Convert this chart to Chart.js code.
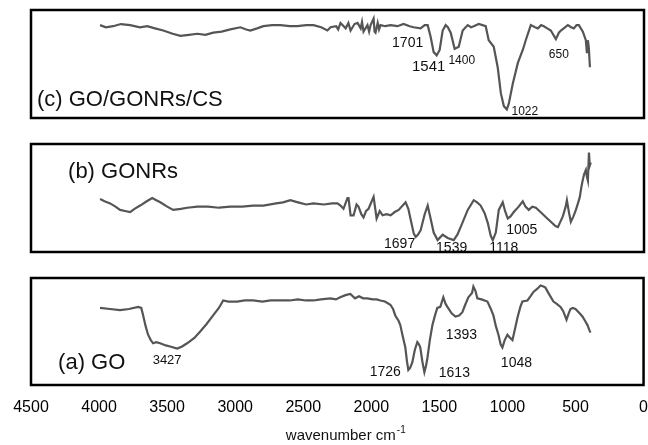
<!DOCTYPE html>
<html>
<head>
<meta charset="utf-8">
<script src="https://cdn.jsdelivr.net/npm/chart.js@4.4.1/dist/chart.umd.min.js"></script>
<style>
  body { margin: 0; background: #fff; }
  #wrap { position: relative; width: 648px; height: 445px; }
  #wrap canvas { position: absolute; left: 0; top: 0; }
</style>
</head>
<body>
<div id="wrap">
  <canvas id="panelC" width="648" height="445"></canvas>
  <canvas id="panelB" width="648" height="445"></canvas>
  <canvas id="panelA" width="648" height="445"></canvas>
</div>
<script>
// x axis tick labels (wavenumber, cm-1)
const xTicks = [4500, 4000, 3500, 3000, 2500, 2000, 1500, 1000, 500, 0];

// (c) GO/GONRs/CS
const waveC = [3993, 3950, 3897, 3840, 3772, 3700, 3647, 3590, 3529, 3460, 3404, 3340, 3279, 3220, 3162, 3100,
  3037, 2963, 2920, 2890, 2840, 2794, 2730, 2669, 2600, 2544, 2480, 2426, 2370, 2324, 2301, 2260, 2245, 2228, 2190,
  2170, 2154, 2125, 2103, 2080, 2070, 2059, 2030, 2018, 2007, 1985, 1978, 1971, 1955, 1945, 1934, 1900, 1860, 1810,
  1765, 1720, 1691, 1640, 1610, 1588, 1566, 1544, 1522, 1500, 1478, 1456, 1440, 1419, 1390, 1360, 1331, 1294,
  1270, 1250, 1213, 1162, 1140, 1103, 1074, 1051, 1029, 1007, 993, 963, 926, 890, 868, 831, 800, 779, 755, 735,
  710, 684, 647, 625, 610, 580, 559, 535, 515, 495, 478, 449, 427, 419, 412, 405, 397];
const transC = [86, 84, 85, 87, 86, 84, 85, 83, 81, 78, 76, 77, 78, 77, 79, 80,
  82, 84, 82, 81, 83, 85, 86, 86, 85, 85, 86, 86, 84, 81, 84, 85, 82, 88, 83,
  88, 81, 87, 88, 83, 89, 80, 86, 80, 86, 92, 80, 79, 88, 82, 86, 85, 86, 85,
  87, 85, 84, 83, 86, 86, 75, 61, 58, 63, 81, 86, 84, 79, 64, 66, 81, 86,
  84, 85, 87, 85, 72, 66, 47, 23, 11, 8, 13, 32, 51, 63, 72, 86, 84, 83, 86, 85,
  83, 81, 73, 79, 81, 84, 86, 84, 83, 86, 86, 80, 72, 60, 72, 65, 47];

// (b) GONRs
const waveB = [3993, 3960, 3919, 3880, 3846, 3810, 3772, 3740, 3699, 3650, 3610, 3580, 3551, 3500, 3456, 3400,
  3353, 3279, 3200, 3120, 3037, 2950, 2870, 2794, 2700, 2650, 2596, 2540, 2480, 2426, 2350, 2290, 2250, 2228,
  2206, 2177, 2169, 2154, 2132, 2110, 2096, 2075, 2059, 2040, 2022, 1985, 1963, 1940, 1919, 1890, 1860, 1830,
  1801, 1750, 1730, 1713, 1690, 1676, 1660, 1640, 1610, 1588, 1565, 1544, 1515, 1478, 1441, 1397, 1370, 1346,
  1294, 1250, 1225, 1199, 1170, 1147, 1125, 1110, 1088, 1066, 1037, 1020, 1000, 980, 956, 920, 890, 870, 846,
  820, 794, 760, 735, 710, 684, 650, 632, 596, 575, 566, 550, 537, 518, 500, 485, 471, 460, 449, 440, 427,
  420, 412, 404, 398, 390];
const transB = [49, 47, 45, 42, 39, 38, 37, 40, 43, 47, 50, 48, 46, 42, 39, 40,
  41, 42, 42, 41, 42, 42, 43, 43, 45, 46, 48, 46, 44, 45, 44, 45, 45, 43,
  40, 50, 50, 34, 34, 44, 42, 35, 32, 38, 40, 51, 31, 38, 34, 35, 34, 37,
  39, 46, 40, 30, 17, 14, 16, 20, 35, 43, 30, 18, 11, 16, 13, 11, 16, 23,
  39, 48, 46, 43, 36, 27, 15, 11, 18, 39, 46, 38, 31, 33, 37, 42, 47, 42, 39,
  42, 41, 37, 34, 31, 28, 24, 23, 33, 42, 48, 36, 28, 33, 39, 45, 51, 60, 67, 72, 76,
  70, 66, 92, 80, 83];

// (a) GO
const waveA = [3993, 3920, 3846, 3780, 3713, 3690, 3676, 3658, 3640, 3620, 3603, 3580, 3551, 3510, 3478, 3426,
  3390, 3353, 3300, 3257, 3210, 3162, 3120, 3088, 3050, 2985, 2930, 2868, 2800, 2740, 2669, 2600, 2540, 2480,
  2426, 2370, 2300, 2260, 2228, 2190, 2154, 2120, 2090, 2060, 2029, 1990, 1960, 1934, 1900, 1860, 1840, 1824,
  1800, 1787, 1770, 1750, 1738, 1728, 1715, 1699, 1680, 1662, 1650, 1640, 1625, 1610, 1598, 1588, 1570, 1551,
  1530, 1515, 1493, 1471, 1455, 1441, 1410, 1382, 1355, 1331, 1310, 1287, 1260, 1250, 1235, 1221, 1190, 1147,
  1125, 1103, 1085, 1066, 1050, 1037, 1020, 1000, 980, 963, 945, 926, 905, 890, 853, 830, 809, 780, 757, 735,
  721, 690, 662, 640, 610, 590, 566, 550, 537, 520, 500, 470, 449, 430, 412, 400, 390];
const transA = [72, 71, 70, 71, 73, 72, 65, 55, 47, 42, 39, 40, 39, 37, 36, 34,
  36, 39, 44, 50, 57, 65, 72, 79, 78, 78, 79, 79, 78, 79, 79, 79, 80, 79,
  79, 80, 81, 80, 82, 84, 85, 81, 83, 81, 81, 80, 80, 79, 78, 75, 71, 65,
  60, 56, 46, 35, 22, 14, 16, 21, 33, 40, 38, 35, 22, 12, 18, 25, 42, 56,
  66, 72, 73, 82, 76, 73, 67, 64, 65, 68, 75, 82, 86, 92, 88, 81, 80, 78,
  72, 65, 55, 47, 38, 35, 42, 47, 44, 42, 52, 63, 73, 78, 79, 83, 87, 90, 93, 92,
  91, 84, 78, 76, 73, 69, 61, 67, 71, 72, 71, 67, 64, 60, 56, 52, 49];

const FONT = "'Liberation Sans', Arial, sans-serif";

// draws the frame, the sample name and the peak labels of one panel
const framePlugin = {
  id: 'frame',
  afterDraw(chart, args, opts) {
    const { ctx, chartArea: a, scales: { x, y } } = chart;
    ctx.save();
    ctx.fillStyle = '#111';
    ctx.textAlign = 'center';
    ctx.textBaseline = 'middle';
    (opts.peaks || []).forEach(p => {
      ctx.font = p.size + 'px ' + FONT;
      ctx.fillText(p.text, x.getPixelForValue(p.w), y.getPixelForValue(p.v));
    });
    if (opts.name) {
      ctx.font = '22px ' + FONT;
      ctx.textAlign = 'left';
      ctx.fillText(opts.name.text, x.getPixelForValue(opts.name.w), y.getPixelForValue(opts.name.v));
    }
    if (opts.title) {
      // axis title with a raised "-1"
      const base = 'wavenumber cm';
      const sup = '-1';
      ctx.font = '15px ' + FONT;
      const w1 = ctx.measureText(base).width;
      ctx.font = '10px ' + FONT;
      const w2 = ctx.measureText(sup).width;
      const cx = (a.left + a.right) / 2 + 8;
      const sx = cx - (w1 + w2) / 2;
      ctx.textAlign = 'left';
      ctx.font = '15px ' + FONT;
      ctx.fillText(base, sx, 436);
      ctx.font = '10px ' + FONT;
      ctx.fillText(sup, sx + w1 + 1, 430);
    }
    ctx.lineWidth = 2.5;
    ctx.strokeStyle = '#000';
    ctx.strokeRect(a.left, a.top, a.right - a.left, a.bottom - a.top);
    ctx.restore();
  }
};

function makePanel(id, waves, trans, padding, frame, showAxis) {
  return new Chart(document.getElementById(id), {
    type: 'line',
    data: {
      datasets: [{
        data: waves.map((w, i) => ({ x: w, y: trans[i] })),
        borderColor: '#555555',
        borderWidth: 2.2,
        pointRadius: 0,
        tension: 0
      }]
    },
    options: {
      responsive: false,
      animation: false,
      events: [],
      layout: { padding: padding },
      plugins: {
        legend: { display: false },
        tooltip: { enabled: false },
        frame: frame
      },
      scales: {
        x: {
          type: 'linear',
          reverse: true,
          min: 0,
          max: 4500,
          display: showAxis,
          grid: { display: false, drawTicks: true, tickLength: 13 },
          border: { display: false },
          ticks: {
            padding: 0,
            color: '#000',
            font: { family: FONT, size: 16 },
            maxRotation: 0,
            autoSkip: false,
            callback: v => String(v)
          },
          afterBuildTicks: s => { s.ticks = xTicks.map(v => ({ value: v })); },
          afterFit: s => { if (showAxis) s.height = 60; }
        },
        y: { min: 0, max: 100, display: false }
      }
    },
    plugins: [framePlugin]
  });
}

makePanel('panelC', waveC, transC, { left: 31, right: 4, top: 10, bottom: 327 }, {
  name: { text: '(c) GO/GONRs/CS', w: 4456, v: 17 },
  peaks: [
    { text: '1701', w: 1735, v: 69, size: 14 },
    { text: '1541', w: 1581, v: 47, size: 15 },
    { text: '1400', w: 1338, v: 53, size: 12 },
    { text: '1022', w: 875, v: 6, size: 12 },
    { text: '650', w: 625, v: 59, size: 12 }
  ]
}, false);

makePanel('panelB', waveB, transB, { left: 31, right: 4, top: 144, bottom: 193 }, {
  name: { text: '(b) GONRs', w: 4228, v: 74 },
  peaks: [
    { text: '1697', w: 1794, v: 7, size: 14 },
    { text: '1539', w: 1412, v: 4, size: 14 },
    { text: '1118', w: 1029, v: 4, size: 14 },
    { text: '1005', w: 897, v: 20, size: 14 }
  ]
}, false);

makePanel('panelA', waveA, transA, { left: 31, right: 4, top: 278, bottom: 0 }, {
  name: { text: '(a) GO', w: 4301, v: 21 },
  title: true,
  peaks: [
    { text: '3427', w: 3500, v: 23, size: 13 },
    { text: '1726', w: 1897, v: 12, size: 14 },
    { text: '1613', w: 1390, v: 11, size: 14 },
    { text: '1393', w: 1338, v: 47, size: 14 },
    { text: '1048', w: 934, v: 20, size: 14 }
  ]
}, true);
</script>
</body>
</html>
